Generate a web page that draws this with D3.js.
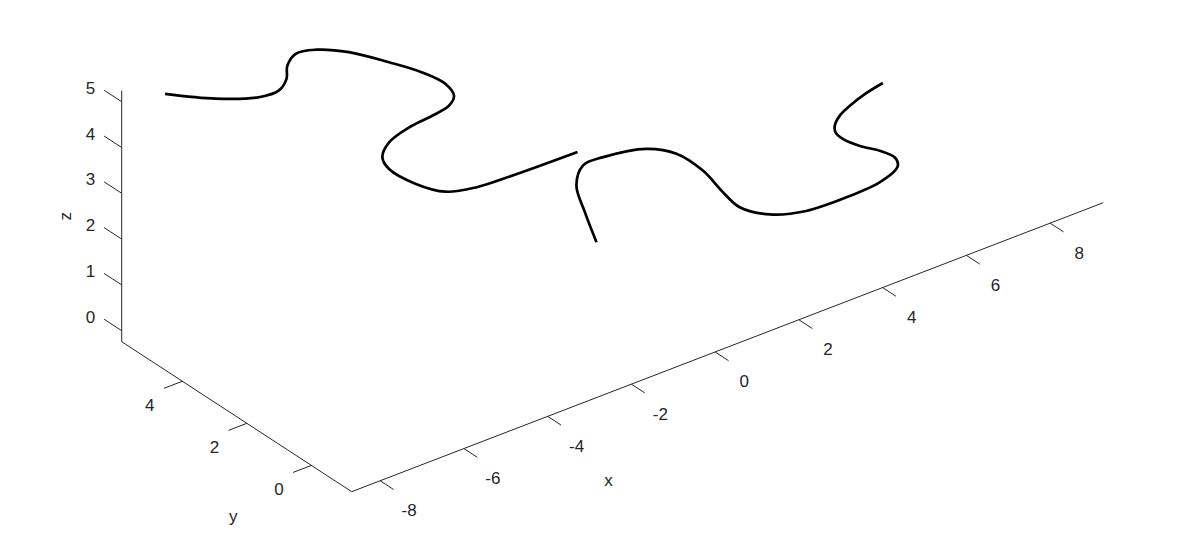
<!DOCTYPE html>
<html>
<head>
<meta charset="utf-8">
<script src="https://cdn.jsdelivr.net/npm/d3@7"></script>
<style>
  html, body { margin: 0; padding: 0; background: #fff; }
  svg text { font-family: "Liberation Sans", Arial, Helvetica, sans-serif; fill: #262626; }
</style>
</head>
<body>
<div id="chart"></div>
<script>
// axis limits
const xLim = [-8.68, 9.27];
const yLim = [-1.25, 5.88];
const zLim = [-0.24, 5.24];

const xTicks = [-8, -6, -4, -2, 0, 2, 4, 6, 8];
const yTicks = [0, 2, 4];
const zTicks = [0, 1, 2, 3, 4, 5];

// first curve (left piece)
const curve1X = [-7.86, -6.65, -5.62, -5.14, -4.96, -4.94, -4.74, -4.26, -3.47, -2.51, -1.72, -1.16,
                 -0.96, -1.08, -1.48, -2.03, -2.51, -2.67, -2.51, -1.87, -1.16, -0.44, 0.51, 1.99];
const curve1Y = [5.6, 5.6, 5.6, 5.6, 5.6, 5.6, 5.6, 5.6, 5.6, 5.6, 5.6, 5.6,
                 5.6, 5.6, 5.6, 5.6, 5.6, 5.6, 5.6, 5.6, 5.6, 5.6, 5.6, 5.6];
const curve1Z = [5.01, 4.48, 4.15, 4.13, 4.32, 4.60, 4.79, 4.71, 4.38, 3.82, 3.32, 2.87,
                 2.54, 2.37, 2.29, 2.23, 2.07, 1.80, 1.49, 0.94, 0.52, 0.36, 0.31, 0.28];

// second curve (right piece)
const curve2X = [-1.10, -1.38, -1.58, -1.42, -0.94, 0.09, 0.81, 1.44, 1.92, 2.32, 3.04,
                 3.91, 4.87, 5.66, 6.06, 6.10, 6.02, 5.66, 5.19, 4.79, 4.61, 4.59,
                 4.71, 4.95, 5.35, 5.74];
const curve2Y = [1, 1, 1, 1, 1, 1, 1, 1, 1, 1, 1,
                 1, 1, 1, 1, 1, 1, 1, 1, 1, 1, 1,
                 1, 1, 1, 1];
const curve2Z = [1.51, 2.27, 2.92, 3.30, 3.31, 3.13, 2.77, 2.18, 1.54, 1.07, 0.66,
                 0.43, 0.39, 0.44, 0.59, 0.68, 0.86, 1.13, 1.40, 1.69, 1.90, 2.05,
                 2.23, 2.36, 2.50, 2.58];

const width = 1200, height = 556;
const axisColor = "#262626";
const fontSize = "17px";

// screen vectors of the projected axis box (view of the 3D axes)
const corner = [351.7, 491.7];
const vx = [751.6, -289];
const vy = [-230, -150];
const vz = [0, -251];

const fx = d3.scaleLinear().domain(xLim).range([0, 1]);
const fy = d3.scaleLinear().domain(yLim).range([0, 1]);
const fz = d3.scaleLinear().domain(zLim).range([0, 1]);

function project(x, y, z) {
    const u = fx(x), v = fy(y), w = fz(z);
    return [
        corner[0] + u * vx[0] + v * vy[0] + w * vz[0],
        corner[1] + u * vx[1] + v * vy[1] + w * vz[1]
    ];
}

function unit(v) {
    const n = Math.hypot(v[0], v[1]);
    return [v[0] / n, v[1] / n];
}

const svg = d3.select("#chart").append("svg")
    .attr("width", width)
    .attr("height", height);

const axes = svg.append("g").attr("class", "axes");

function segment(a, b) {
    axes.append("line")
        .attr("x1", a[0]).attr("y1", a[1])
        .attr("x2", b[0]).attr("y2", b[1])
        .attr("stroke", axisColor)
        .attr("stroke-width", 1);
}

function label(x, y, txt) {
    return axes.append("text")
        .attr("x", x).attr("y", y)
        .attr("text-anchor", "middle")
        .attr("dominant-baseline", "central")
        .style("font-size", fontSize)
        .text(txt);
}

// axis lines
segment(project(xLim[0], yLim[0], zLim[0]), project(xLim[1], yLim[0], zLim[0]));
segment(project(xLim[0], yLim[0], zLim[0]), project(xLim[0], yLim[1], zLim[0]));
segment(project(xLim[0], yLim[1], zLim[0]), project(xLim[0], yLim[1], zLim[1]));

const uy = unit(vy), ux = unit(vx);

// x ticks
xTicks.forEach(t => {
    const p = project(t, yLim[0], zLim[0]);
    segment(p, [p[0] - uy[0] * 16, p[1] - uy[1] * 16]);
    label(p[0] + 29, p[1] + 30, t);
});

// y ticks
yTicks.forEach(t => {
    const p = project(xLim[0], t, zLim[0]);
    segment(p, [p[0] - ux[0] * 19.6, p[1] - ux[1] * 19.6]);
    label(p[0] - 32.5, p[1] + 24.5, t);
});

// z ticks
zTicks.forEach(t => {
    const p = project(xLim[0], yLim[1], t);
    segment(p, [p[0] + uy[0] * 21, p[1] + uy[1] * 21]);
    label(p[0] - 31.3, p[1] - 13.3, t);
});

// axis labels
const xMid = project((xLim[0] + xLim[1]) / 2, yLim[0], zLim[0]);
label(xMid[0] - 119, xMid[1] + 133, "x");

const yMid = project(xLim[0], (yLim[0] + yLim[1]) / 2, zLim[0]);
label(yMid[0] - 3.4, yMid[1] + 100, "y");

const zMid = project(xLim[0], yLim[1], (zLim[0] + zLim[1]) / 2);
label(0, 0, "z")
    .attr("transform", "translate(" + (zMid[0] - 56.7) + "," + zMid[1] + ") rotate(-90)");

// curves
const line = d3.line()
    .x(d => project(d.x, d.y, d.z)[0])
    .y(d => project(d.x, d.y, d.z)[1])
    .curve(d3.curveCatmullRom.alpha(0.5));

function toPoints(xs, ys, zs) {
    return xs.map((x, i) => ({ x: x, y: ys[i], z: zs[i] }));
}

const curves = [
    toPoints(curve1X, curve1Y, curve1Z),
    toPoints(curve2X, curve2Y, curve2Z)
];

svg.append("g").selectAll("path")
    .data(curves)
    .enter().append("path")
    .attr("d", line)
    .attr("fill", "none")
    .attr("stroke", "#000")
    .attr("stroke-width", 2.7)
    .attr("stroke-linejoin", "round")
    .attr("stroke-linecap", "butt");
</script>
</body>
</html>
